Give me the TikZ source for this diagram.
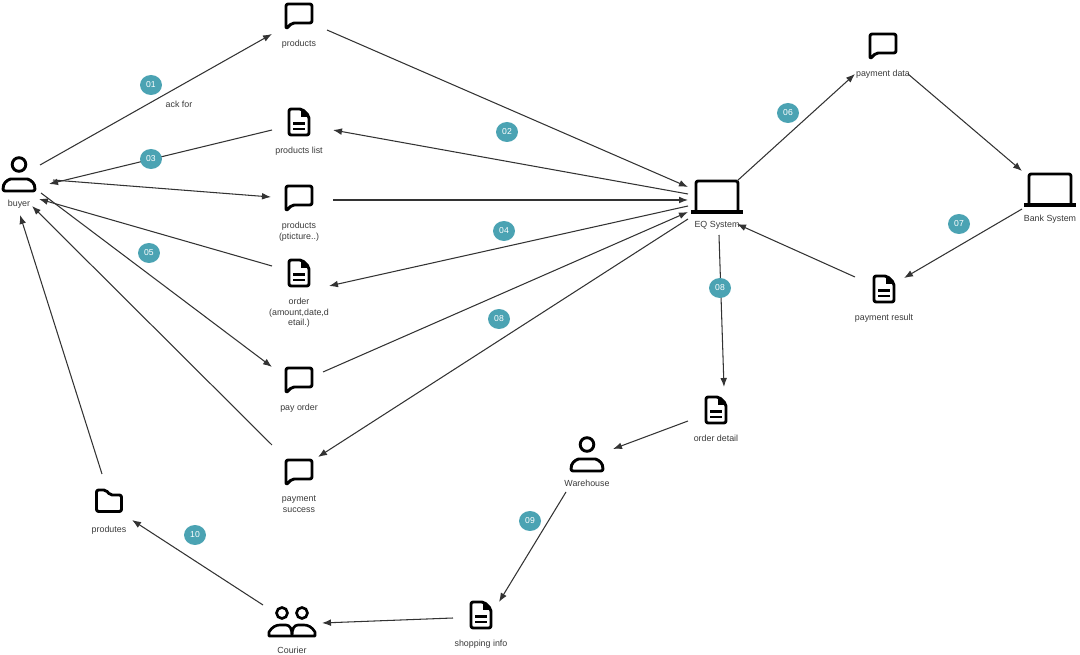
\documentclass[tikz,border=0pt]{standalone}
\usepackage{fontspec}
\setmainfont{Liberation Sans}
\usepackage{xcolor}
\usetikzlibrary{positioning, arrows.meta, shapes.geometric}
\definecolor{badgeteal}{HTML}{4BA3B3}
\definecolor{inktext}{HTML}{3A3A3A}
\begin{document}
\begin{tikzpicture}[
    x=0.02cm, y=-0.02cm,
    item/.style  = {inner sep=0pt, minimum width=0.6cm, minimum height=0.96cm},
    lbl/.style   = {font=\fontsize{5.05}{6.2}\selectfont, text=inktext, align=center,
                    inner sep=0pt, label distance=0pt},
    badge/.style = {ellipse, fill=badgeteal, text=white, inner sep=0pt,
                    minimum width=0.44cm, minimum height=0.4cm,
                    font=\fontsize{4.9}{6}\selectfont},
    flow/.style  = {-{Latex[length=1.8mm, width=1.35mm]}, line width=0.6pt, draw=black!80},
    icon/.style  = {line width=1.65pt, line join=round, rounded corners=1.2pt},
    chat/.pic    = {\draw[icon] (-13,14) -- (-13,-11) -- (13,-11) -- (13,8) -- (-7,8) -- cycle;},
    sheet/.pic   = {\draw[icon] (-10,-13) -- (3,-13) -- (10,-6) -- (10,13) -- (-10,13) -- cycle;
                    \fill (2,-13) -- (10,-5) -- (2,-5) -- cycle;
                    \draw[line width=1.4pt] (-6,1.5) -- (6,1.5) (-6,7) -- (6,7);},
    person/.pic  = {\draw[line width=1.65pt] (0,-10.5) circle (6.8);
                    \draw[icon] (-16,16) -- (16,16) -- (16,12) .. controls (14,6) and (9,4) .. (6,4)
                                -- (-6,4) .. controls (-9,4) and (-14,6) .. (-16,12) -- cycle;},
    duo/.pic     = {\draw[line width=1.5pt] (-10,-9) circle (5.5) (10,-9) circle (5.5);
                    \draw[line width=1.5pt, line join=round]
                      (-23,14) -- (-23,10) .. controls (-20,5) and (-16,3) .. (-12,3) -- (-6,3)
                      .. controls (-2,3) and (0,7) .. (0,14) -- cycle
                      (23,14) -- (23,10) .. controls (20,5) and (16,3) .. (12,3) -- (6,3)
                      .. controls (2,3) and (0,7) .. (0,14) -- cycle;},
    laptop/.pic  = {\draw[icon] (-21,13) -- (-21,-16) -- (21,-16) -- (21,13);
                    \fill (-26,13) rectangle (26,17);},
    folder/.pic  = {\draw[icon] (-12.5,10.5) -- (-12.5,-11) -- (-3,-11) -- (1,-6) -- (12.5,-6)
                                -- (12.5,10.5) -- cycle;},
  ]
    \useasboundingbox (0,0) rectangle (1080,655);

    % --- buyer side ---
    \node[item, label={[lbl]below:buyer}] (buyer) at (19,175) {};
    \node[item, label={[lbl]below:products}] (products) at (299,15) {};
    \node[item, label={[lbl]below:products list}] (plist) at (299,122) {};
    \node[item, label={[lbl]below:products\\(pticture..)}] (ppic) at (299,197) {};
    \node[item, label={[lbl]below:order\\(amount,date,d\\etail.)}] (order) at (299,273) {};
    \node[item, label={[lbl]below:pay order}] (payorder) at (299,379) {};
    \node[item, label={[lbl]below:payment\\success}] (paysuccess) at (299,471) {};
    \pic at (buyer) {person};
    \pic at (products) {chat};
    \pic at (plist) {sheet};
    \pic at (ppic) {chat};
    \pic at (order) {sheet};
    \pic at (payorder) {chat};
    \pic at (paysuccess) {chat};

    % --- systems ---
    \node[item, label={[lbl]below:EQ System}] (eq) at (717,197) {};
    \node[item, label={[lbl]below:payment data}] (paydata) at (883,45) {};
    \node[item, label={[lbl]below:Bank System}] (bank) at (1050,190) {};
    \node[item, label={[lbl]below:payment result}] (payresult) at (884,289) {};
    \pic at (eq) {laptop};
    \pic at (paydata) {chat};
    \pic at (bank) {laptop};
    \pic at (payresult) {sheet};

    % --- delivery ---
    \node[item, label={[lbl]below:order detail}] (detail) at (716,410) {};
    \node[item, label={[lbl]below:Warehouse}] (warehouse) at (587,455) {};
    \node[item, label={[lbl]below:shopping info}] (shopping) at (481,615) {};
    \node[item, label={[lbl]below:Courier}] (courier) at (292,622) {};
    \node[item, label={[lbl]below:produtes}] (produtes) at (109,501) {};
    \pic at (detail) {sheet};
    \pic at (warehouse) {person};
    \pic at (shopping) {sheet};
    \pic at (courier) {duo};
    \pic at (produtes) {folder};

    % --- buyer and system ---
    \draw[flow] ([shift={(21,-10)}]buyer.center) -- ([shift={(-27,19)}]products.center);
    \draw[flow] ([shift={(28,15)}]products.center) -- ([shift={(-29,-10)}]eq.center);
    \draw[flow] ([shift={(-29,-3)}]eq.center) -- ([shift={(34,8)}]plist.center);
    \draw[flow] ([shift={(-27,8)}]plist.center) -- ([shift={(30,9)}]buyer.center);
    \draw[flow] ([shift={(34,5)}]buyer.center) -- ([shift={(-28,0)}]ppic.center);
    \draw[flow] ([shift={(34,3)}]ppic.center) -- ([shift={(-29,3)}]eq.center);
    \draw[flow] ([shift={(-29,9)}]eq.center) -- ([shift={(30,13)}]order.center);
    \draw[flow] ([shift={(-27,-7)}]order.center) -- ([shift={(20,24)}]buyer.center);
    \draw[flow] ([shift={(22,18)}]buyer.center) -- ([shift={(-27,-12)}]payorder.center);
    \draw[flow] ([shift={(24,-7)}]payorder.center) -- ([shift={(-29,15)}]eq.center);
    \draw[flow] ([shift={(-29,22)}]eq.center) -- ([shift={(19,-14)}]paysuccess.center);
    \draw[flow] ([shift={(-27,-26)}]paysuccess.center) -- ([shift={(13,31)}]buyer.center);

    % --- bank loop ---
    \draw[flow] ([shift={(20,-16)}]eq.center) -- ([shift={(-28,29)}]paydata.center);
    \draw[flow] ([shift={(25,29)}]paydata.center) -- ([shift={(-28,-19)}]bank.center);
    \draw[flow] ([shift={(-28,19)}]bank.center) -- ([shift={(20,-11)}]payresult.center);
    \draw[flow] ([shift={(-29,-12)}]payresult.center) -- ([shift={(20,27)}]eq.center);

    % --- delivery chain ---
    \draw[flow] ([shift={(2,38)}]eq.center) -- ([shift={(8,-23)}]detail.center);
    \draw[flow] ([shift={(-28,11)}]detail.center) -- ([shift={(26,-6)}]warehouse.center);
    \draw[flow] ([shift={(-21,37)}]warehouse.center) -- ([shift={(18,-13)}]shopping.center);
    \draw[flow] ([shift={(-28,3)}]shopping.center) -- ([shift={(30,1)}]courier.center);
    \draw[flow] ([shift={(-29,-17)}]courier.center) -- ([shift={(23,19)}]produtes.center);
    \draw[flow] ([shift={(-7,-27)}]produtes.center) -- ([shift={(1,40)}]buyer.center);

    % --- step badges ---
    \node[badge] (b01) at (151,85)  {01};
    \node[lbl]   (askfor) at (179,104) {ack for};
    \node[badge] (b02) at (507,132) {02};
    \node[badge] (b03) at (151,159) {03};
    \node[badge] (b04) at (504,231) {04};
    \node[badge] (b05) at (149,253) {05};
    \node[badge] (b06) at (788,113) {06};
    \node[badge] (b07) at (959,224) {07};
    \node[badge] (b08) at (720,288) {08};
    \node[badge] (b18) at (499,319) {08};
    \node[badge] (b09) at (530,521) {09};
    \node[badge] (b10) at (195,535) {10};
  \end{tikzpicture}
\end{document}
